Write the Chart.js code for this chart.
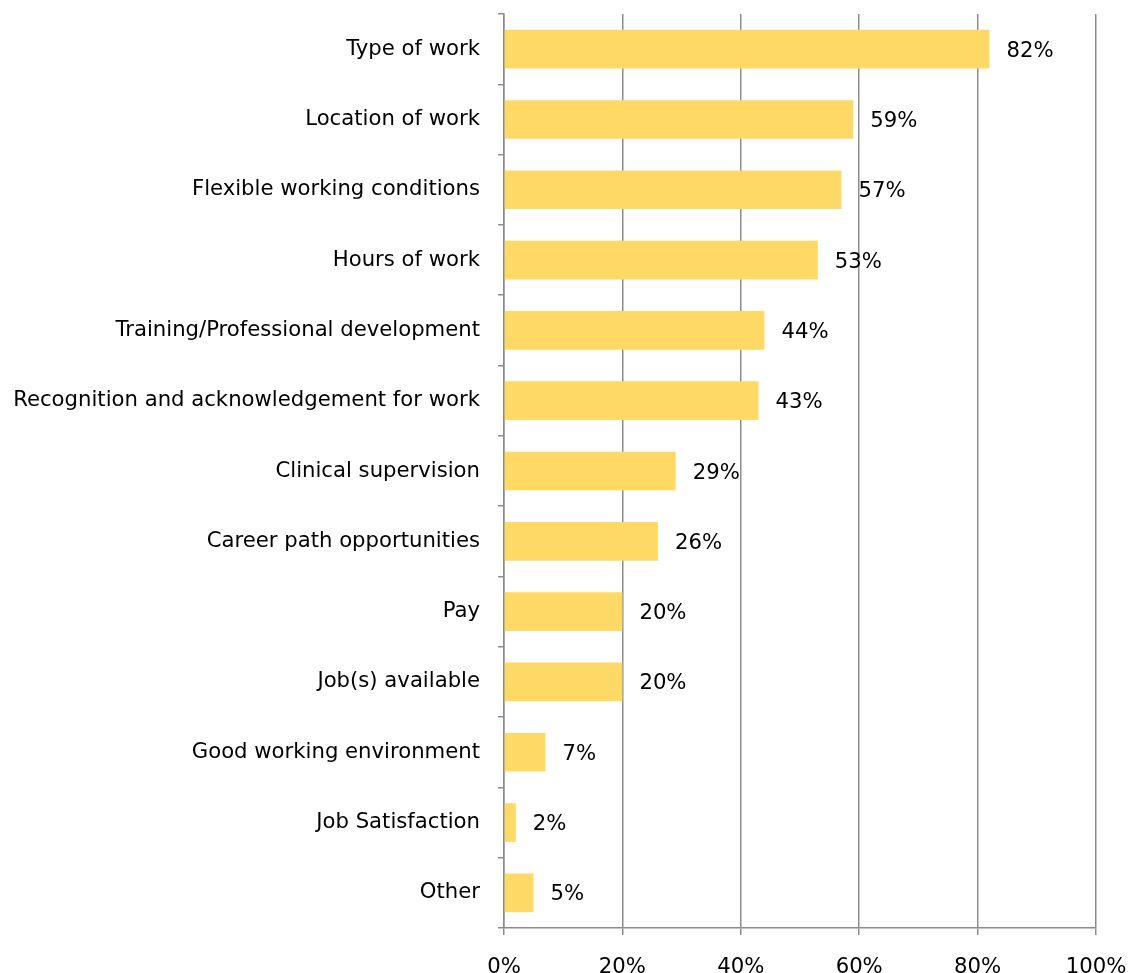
<!DOCTYPE html>
<html>
<head>
<meta charset="utf-8">
<script src="https://cdn.jsdelivr.net/npm/chart.js@4.4.1/dist/chart.umd.min.js"></script>
<style>
  html, body { margin: 0; padding: 0; background: #fff; }
  #wrap { width: 1130px; height: 973px; }
</style>
</head>
<body>
<div id="wrap"><canvas id="chart_factores" width="1130" height="973"></canvas></div>
<script>
  // ---------- Datos ----------
  const categorias = [
    "Type of work",
    "Location of work",
    "Flexible working conditions",
    "Hours of work",
    "Training/Professional development",
    "Recognition and acknowledgement for work",
    "Clinical supervision",
    "Career path opportunities",
    "Pay",
    "Job(s) available",
    "Good working environment",
    "Job Satisfaction",
    "Other",
  ];
  const porcentajes = [82, 59, 57, 53, 44, 43, 29, 26, 20, 20, 7, 2, 5];
  const ticksX = [0, 20, 40, 60, 80, 100];

  const FONT = "'DejaVu Sans', Verdana, sans-serif";
  const GRIS = "#8c8c8c";
  const TAM = 21.2;

  // etiqueta de valor al final de cada barra
  const etiquetas = {
    id: "etiquetas",
    afterDatasetsDraw(chart) {
      const { ctx } = chart;
      const meta = chart.getDatasetMeta(0);
      ctx.save();
      ctx.font = TAM + "px " + FONT;
      ctx.fillStyle = "#000";
      ctx.textAlign = "left";
      ctx.textBaseline = "middle";
      meta.data.forEach((bar, i) => {
        ctx.fillText(porcentajes[i] + "%", bar.x + 17, bar.y + 2);
      });
      ctx.restore();
    },
  };

  Chart.defaults.font.family = FONT;
  Chart.defaults.color = "#000";

  new Chart(document.getElementById("chart_factores"), {
    type: "bar",
    data: {
      labels: categorias,
      datasets: [
        {
          data: porcentajes,
          backgroundColor: "#ffd966",
          borderWidth: 0,
          barPercentage: 0.55,
          categoryPercentage: 1,
        },
      ],
    },
    options: {
      indexAxis: "y",
      responsive: false,
      animation: false,
      layout: { padding: { left: 0, right: 34, top: 14, bottom: 0 } },
      plugins: { legend: { display: false }, tooltip: { enabled: false } },
      scales: {
        x: {
          min: 0,
          max: 100,
          afterBuildTicks: (scale) => {
            scale.ticks = ticksX.map((v) => ({ value: v }));
          },
          afterFit: (scale) => {
            scale.height = 45;
            scale.paddingLeft = 0;
            scale.paddingRight = 0;
          },
          ticks: {
            callback: (v) => v + "%",
            font: { size: TAM },
            padding: 20,
            maxRotation: 0,
          },
          grid: { color: GRIS, lineWidth: 1.5, tickLength: 7, tickColor: GRIS },
          border: { color: GRIS, width: 1.5 },
        },
        y: {
          afterFit: (scale) => {
            scale.width = 504;
            scale.paddingTop = 0;
            scale.paddingBottom = 0;
          },
          ticks: { font: { size: TAM }, padding: 18, autoSkip: false },
          grid: {
            offset: true,
            drawOnChartArea: false,
            tickLength: 6,
            tickColor: GRIS,
            lineWidth: 1.5,
          },
          border: { color: GRIS, width: 1.5 },
        },
      },
    },
    plugins: [etiquetas],
  });
</script>
</body>
</html>
